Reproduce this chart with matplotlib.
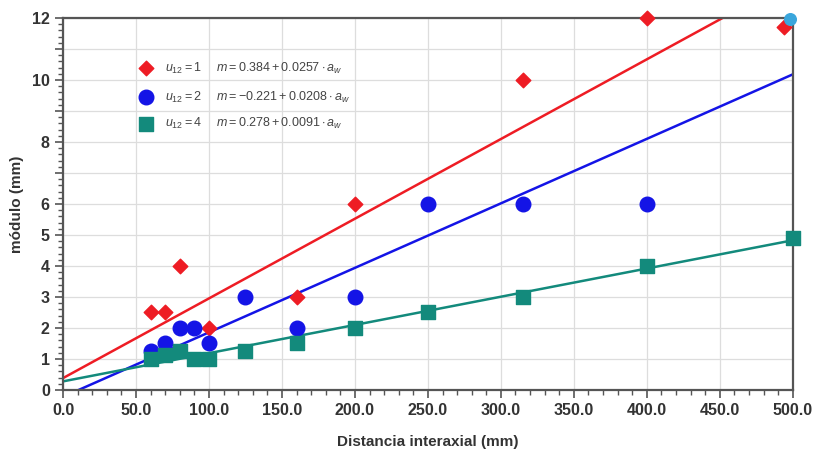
import numpy as np
from matplotlib import pyplot as plt
from matplotlib.ticker import MultipleLocator, FixedLocator, FixedFormatter

plt.rcParams['mathtext.fontset'] = 'custom'
plt.rcParams['mathtext.it'] = 'Liberation Sans:italic'
plt.rcParams['mathtext.rm'] = 'Liberation Sans'

# datos u12 = 1 (rombos rojos)
x_u1 = [60, 70, 80, 100, 160, 200, 315, 400, 494]
y_u1 = [2.5, 2.5, 4, 2, 3, 6, 10, 12, 11.7]
# u12 = 2 (circulos azules)
x_u2 = [60, 70, 80, 90, 100, 125, 160, 200, 250, 315, 400]
y_u2 = [1.25, 1.5, 2, 2, 1.5, 3, 2, 3, 6, 6, 6]
# u12 = 4 (cuadrados verdes)
x_u4 = [60, 70, 80, 90, 100, 125, 160, 200, 250, 315, 400, 500]
y_u4 = [1, 1.12, 1.25, 1, 1, 1.25, 1.5, 2, 2.5, 3, 4, 4.9]
# punto celeste en la esquina
x_extra = [498]
y_extra = [11.95]

# rectas de ajuste m = a + b*aw
fits = [(0.384, 0.0257), (-0.221, 0.0208), (0.278, 0.0091)]
y_ticks = [0, 1, 2, 3, 4, 5, 6, 7, 8, 9, 10, 11, 12]
y_labels = ['0', '1', '2', '3', '4', '5', '6', '', '8', '', '10', '', '12']

red = '#ee1c24'
blue = '#1414e6'
teal = '#138a7c'

fig = plt.figure(figsize=(8.19, 4.71), dpi=100)
ax = fig.add_axes([0.077, 0.172, 0.891, 0.79])

xx = np.array([0, 500])
for (a, b), c in zip(fits, [red, blue, teal]):
    ax.plot(xx, a + b * xx, color=c, lw=1.8, zorder=2)

ax.scatter(x_u1, y_u1, marker='D', s=55, color=red, zorder=3, clip_on=False)
ax.scatter(x_u2, y_u2, marker='o', s=110, color=blue, zorder=3, clip_on=False)
ax.scatter(x_u4, y_u4, marker='s', s=110, color=teal, zorder=3, clip_on=False)
ax.scatter(x_extra, y_extra, marker='o', s=70, color='#3aa6dc', zorder=4, clip_on=False)

ax.set_xlim(0, 500)
ax.set_ylim(0, 12)
ax.xaxis.set_major_locator(MultipleLocator(50))
ax.xaxis.set_minor_locator(MultipleLocator(10))
ax.xaxis.set_major_formatter(plt.FuncFormatter(lambda v, p: f'{v:.1f}'))
ax.yaxis.set_major_locator(FixedLocator(y_ticks))
ax.yaxis.set_major_formatter(FixedFormatter(y_labels))
ax.yaxis.set_minor_locator(MultipleLocator(0.2))

ax.grid(True, which='major', color='#dddddd', lw=0.9)
ax.set_axisbelow(True)
for s in ax.spines.values():
    s.set_color('#555555')
    s.set_linewidth(1.6)

ax.tick_params(which='major', direction='out', length=6, width=1.2, color='#555555',
               labelsize=11.5, labelcolor='#333333')
ax.tick_params(which='minor', direction='out', length=3.5, width=1.0, color='#555555')
for lab in ax.get_xticklabels() + ax.get_yticklabels():
    lab.set_fontweight('bold')
    lab.set_family('Liberation Sans')

ax.set_xlabel('Distancia interaxial (mm)', fontsize=11, fontweight='bold',
              family='Liberation Sans', color='#333333', labelpad=12)
ax.set_ylabel('módulo (mm)', fontsize=11, fontweight='bold',
              family='Liberation Sans', color='#333333', labelpad=6)

# leyenda
leg_y = [10.38, 9.45, 8.58]
leg_txt = [r'$u_{12}=1$    $m = 0.384 + 0.0257 \cdot a_w$',
           r'$u_{12}=2$    $m = -0.221 + 0.0208 \cdot a_w$',
           r'$u_{12}=4$    $m = 0.278 + 0.0091 \cdot a_w$']
leg_mk = [('D', 55, red), ('o', 110, blue), ('s', 110, teal)]
for yy, t, (mk, sz, c) in zip(leg_y, leg_txt, leg_mk):
    ax.scatter([57], [yy], marker=mk, s=sz, color=c, zorder=5)
    ax.text(70, yy, t, fontsize=9, color='#444444', va='center')

plt.savefig('out.png', dpi=100)
